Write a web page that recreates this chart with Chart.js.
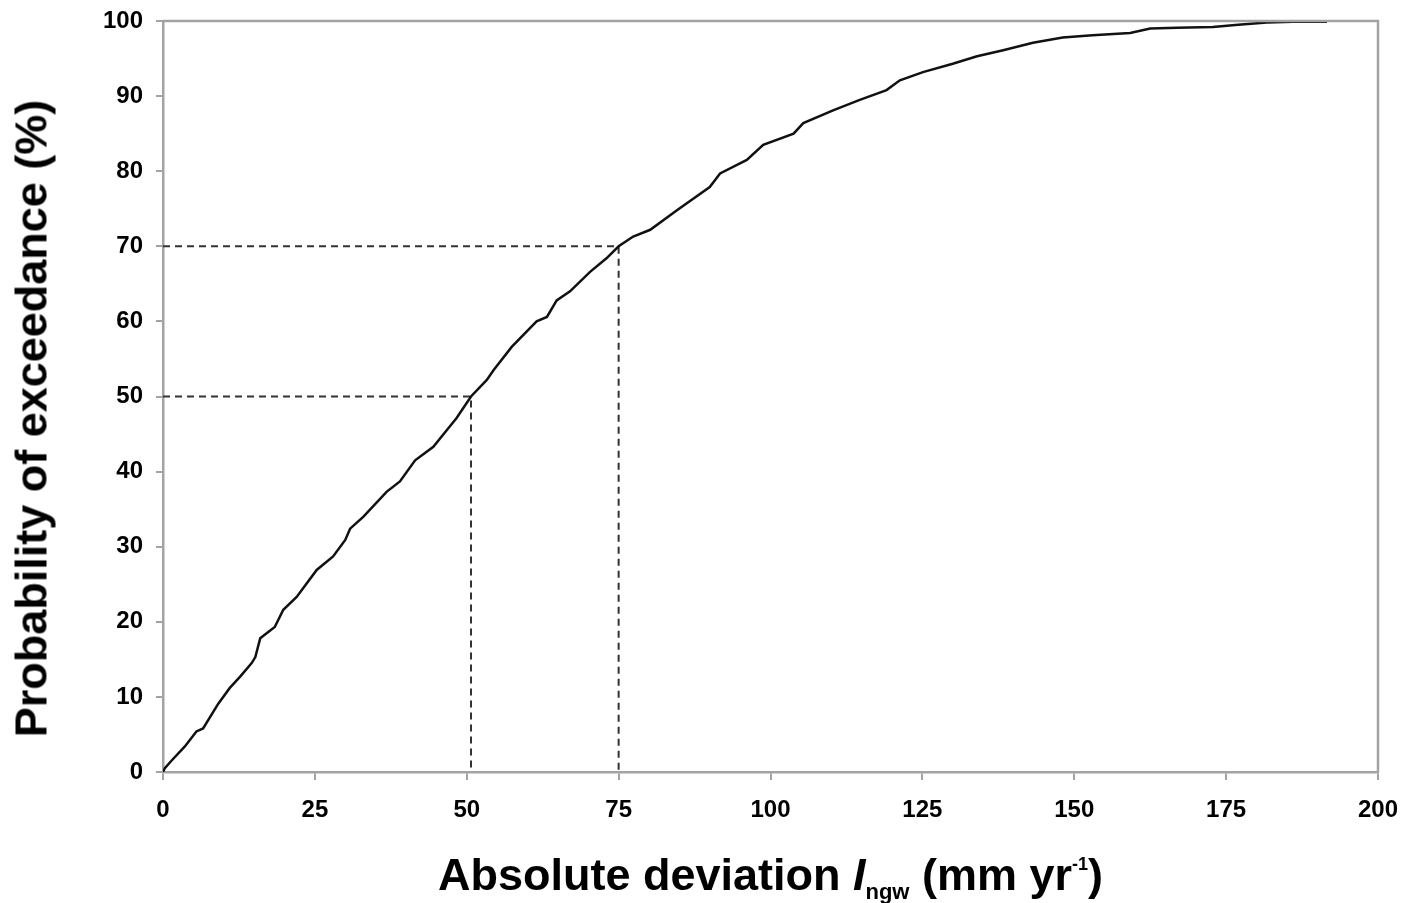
<!DOCTYPE html>
<html>
<head>
<meta charset="utf-8">
<script src="https://cdn.jsdelivr.net/npm/chart.js@4/dist/chart.umd.min.js"></script>
<style>
  body { margin: 0; background: #fff; }
  #wrap { position: relative; width: 1401px; height: 903px; }
  .ttl { position: absolute; font-family: "Liberation Sans", Arial, sans-serif; font-weight: bold; font-size: 45px; line-height: 45px; color: #000; white-space: nowrap; text-align: center; }
  #xtitle { left: 163px; width: 1215px; top: 852px; }
  #ytitle { left: -319px; width: 700px; top: 396px; transform: rotate(-90deg); }
  .sub { font-size: 22px; position: relative; top: 9px; }
  .sup { font-size: 18px; position: relative; top: -20px; }
</style>
</head>
<body>
<div id="wrap">
  <canvas id="chart"></canvas>
  <div class="ttl" id="xtitle">Absolute deviation <i>I</i><span class="sub">ngw</span> (mm yr<span class="sup">-1</span>)</div>
  <div class="ttl" id="ytitle">Probability of exceedance (%)</div>
</div>
<script>
// exceedance curve
const devX = [0, 0.3, 1.5, 3.6, 5.5, 6.6, 9.1, 11, 12.7, 14.6, 15.2, 16.0, 18.4, 19.8, 22.0, 25.3, 28.0, 30.0, 30.8, 33.0, 36.8, 39.0, 41.5, 44.5, 46.7, 48.3, 50.7, 53.3, 54.4, 57.4, 61.5, 63.2, 64.8, 67.0, 70.3, 73.0, 75.0, 77.4, 80.2, 84.6, 90.0, 91.7, 96.1, 98.8, 103.8, 105.4, 110.3, 114.7, 119.1, 121.3, 125.1, 130, 134, 138.3, 143.2, 148.1, 153, 159.2, 162.5, 167, 172.8, 177, 181.7, 186, 191.6];
const excProb = [0, 0.5, 1.6, 3.4, 5.4, 5.8, 9.1, 11.2, 12.7, 14.5, 15.3, 17.8, 19.3, 21.6, 23.3, 26.9, 28.7, 30.9, 32.4, 34.0, 37.3, 38.7, 41.5, 43.3, 45.5, 47.1, 50.0, 52.2, 53.5, 56.6, 60.0, 60.6, 62.8, 64.0, 66.6, 68.4, 70.0, 71.3, 72.2, 74.8, 77.9, 79.7, 81.5, 83.5, 85.0, 86.4, 88.1, 89.5, 90.8, 92.1, 93.2, 94.3, 95.3, 96.1, 97.1, 97.8, 98.1, 98.4, 99.0, 99.1, 99.2, 99.5, 99.8, 99.9, 99.9];

// dashed guide lines (50% and 70% exceedance)
const refX = [50.7, 75];
const refY = [50, 70];

const xTicks = [0, 25, 50, 75, 100, 125, 150, 175, 200];
const yTicks = [0, 10, 20, 30, 40, 50, 60, 70, 80, 90, 100];

const axisGrey = '#a3a3a3';
const tickFont = { family: 'Liberation Sans', weight: 'bold', size: 24 };

const datasets = [{
  data: devX.map((x, i) => ({ x: x, y: excProb[i] })),
  borderColor: '#111',
  borderWidth: 2.5,
  pointRadius: 0,
  showLine: true,
  tension: 0
}];

refX.forEach((rx, i) => {
  datasets.push({
    data: [{ x: 0, y: refY[i] }, { x: rx, y: refY[i] }, { x: rx, y: 0 }],
    borderColor: '#333',
    borderWidth: 2,
    borderDash: [7, 5],
    pointRadius: 0,
    showLine: true
  });
});

const frame = {
  id: 'frame',
  afterDatasetsDraw(chart) {
    const { ctx, chartArea: a } = chart;
    ctx.save();
    ctx.strokeStyle = axisGrey;
    ctx.lineWidth = 2.5;
    ctx.beginPath();
    ctx.moveTo(a.left, a.top);
    ctx.lineTo(a.right, a.top);
    ctx.lineTo(a.right, a.bottom);
    ctx.stroke();
    ctx.restore();
  }
};

new Chart(document.getElementById('chart'), {
  type: 'scatter',
  data: { datasets: datasets },
  plugins: [frame],
  options: {
    responsive: true,
    maintainAspectRatio: false,
    animation: false,
    layout: { padding: { left: 0, top: 21, right: 23, bottom: 0 } },
    plugins: { legend: { display: false }, tooltip: { enabled: false } },
    scales: {
      x: {
        type: 'linear',
        min: 0,
        max: 200,
        afterBuildTicks: s => { s.ticks = xTicks.map(v => ({ value: v })); },
        afterFit: s => { s.height = 131; s.paddingLeft = 0; s.paddingRight = 0; },
        ticks: { font: tickFont, color: '#000', padding: 16, maxRotation: 0 },
        grid: { drawOnChartArea: false, color: axisGrey, tickLength: 8, lineWidth: 2 },
        border: { color: axisGrey, width: 2.5 }
      },
      y: {
        type: 'linear',
        min: 0,
        max: 100,
        afterBuildTicks: s => { s.ticks = yTicks.map(v => ({ value: v })); },
        afterFit: s => { s.width = 163; s.paddingTop = 0; s.paddingBottom = 0; },
        ticks: { font: tickFont, color: '#000', padding: 13 },
        grid: { drawOnChartArea: false, color: axisGrey, tickLength: 7, lineWidth: 2 },
        border: { color: axisGrey, width: 2.5 }
      }
    }
  }
});
</script>
</body>
</html>
